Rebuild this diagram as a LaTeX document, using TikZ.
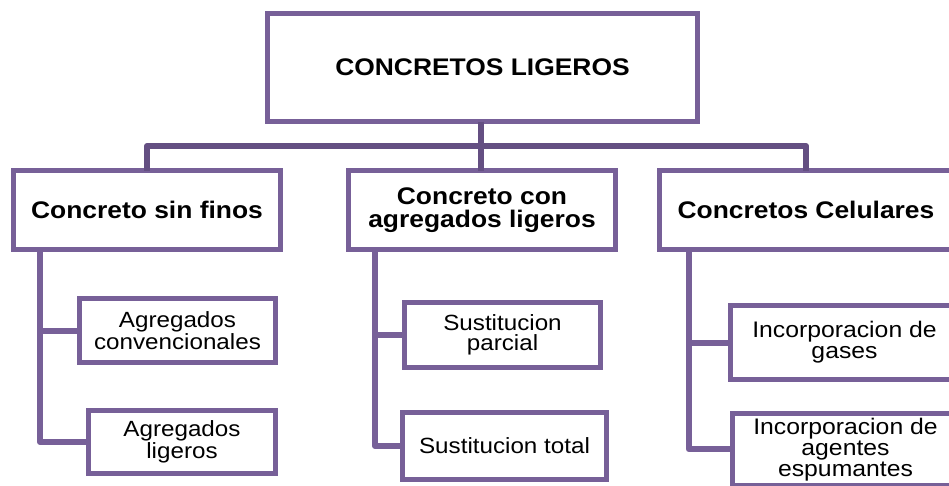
\documentclass[tikz,border=0pt]{standalone}
\usepackage{fontspec}
\setmainfont{Liberation Sans}[FakeStretch=1.1]
\definecolor{boxc}{RGB}{119,96,152}
\definecolor{connc}{RGB}{100,79,130}
\tikzset{
  box/.style={draw=boxc, line width=5pt, fill=white, inner sep=0pt, outer sep=0pt, align=center},
  conn/.style={draw=connc, line width=6pt, line join=round},
  subconn/.style={draw=boxc, line width=6pt, line join=round},
  headfont/.style={font=\bfseries\fontsize{24}{23}\selectfont},
  leaffont/.style={font=\fontsize{22}{20.5}\selectfont},
  leaffontb/.style={font=\fontsize{22.5}{21}\selectfont}
}
\begin{document}
\begin{tikzpicture}[x=1pt,y=-1pt]
\useasboundingbox (0,0) rectangle (949,485);
\clip (0,0) rectangle (949,485);
\fill[white] (0,0) rectangle (949,485);
% top
\node[box, headfont, minimum width=430, minimum height=108] (top) at (482.5,67.5) {CONCRETOS LIGEROS};
% level 2
\node[box, headfont, minimum width=267, minimum height=79] (b1) at (147,210) {Concreto sin finos};
\node[box, headfont, minimum width=267, minimum height=79] (b2) at (482,210) {Concreto con\\agregados ligeros};
\node[box, headfont, minimum width=293, minimum height=79] (b3) at (806,210) {Concretos Celulares};
% leaves
\node[box, leaffont, minimum width=196, minimum height=64] (c11) at (177.5,330.5) {Agregados\\convencionales};
\node[box, leaffont, minimum width=187, minimum height=63] (c12) at (182,442) {Agregados\\ligeros};
\node[box, leaffont, minimum width=196, minimum height=65] (c21) at (502.5,335) {Sustitucion\\parcial};
\node[box, leaffont, minimum width=204, minimum height=67] (c22) at (504.5,446) {Sustitucion total};
\node[box, leaffontb, minimum width=228, minimum height=74] (c31) at (844.5,342.5) {Incorporacion de\\gases};
\node[box, leaffontb, minimum width=226, minimum height=71.5] (c32) at (845.5,449.25) {Incorporacion de\\agentes\\espumantes};
% bus
\coordinate (bus) at (481,146);
\draw[conn] (top.south -| bus) -- (b2.north -| bus);
\draw[conn] (b1.north) -- (b1.north |- bus) -- (b3.north |- bus) -- (b3.north);
% sub connectors
\coordinate (s1) at (40,0);
\coordinate (s2) at (375,0);
\coordinate (s3) at (689,0);
\draw[subconn] (b1.south -| s1) |- (c12.west);
\draw[subconn] (c11.west) -- (c11.west -| s1);
\draw[subconn] (b2.south -| s2) |- (c22.west);
\draw[subconn] (c21.west) -- (c21.west -| s2);
\draw[subconn] (b3.south -| s3) |- (c32.west);
\draw[subconn] (c31.west) -- (c31.west -| s3);
\end{tikzpicture}
\end{document}
